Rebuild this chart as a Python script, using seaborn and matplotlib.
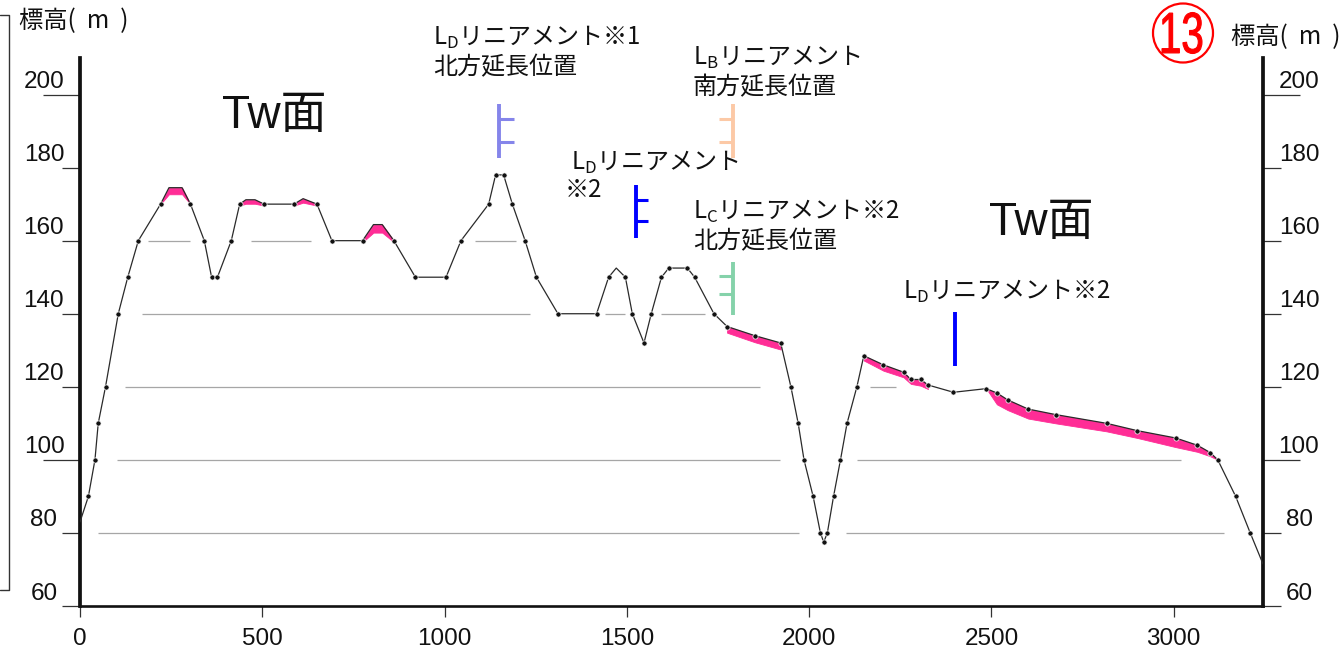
import numpy as np
import pandas as pd
import matplotlib
matplotlib.use("Agg")
import matplotlib.pyplot as plt
import seaborn as sns
from matplotlib import transforms
from matplotlib.patches import Ellipse, PathPatch
from matplotlib.textpath import TextPath
from matplotlib.font_manager import FontProperties
from matplotlib.lines import Line2D

# ---- terrain profile (distance m, elevation m) ----
distance = [0, 23, 41, 50, 70, 105, 131, 160, 221, 244, 280, 303, 341, 361, 377,
            415, 438, 455, 480, 505, 587, 612, 650, 691, 775, 805, 829, 861, 920,
            1004, 1045, 1121, 1140, 1162, 1186, 1221, 1252, 1311, 1417, 1450, 1471,
            1496, 1515, 1547, 1567, 1595, 1615, 1666, 1686, 1739, 1775, 1851, 1922,
            1950, 1970, 1986, 2011, 2031, 2040, 2050, 2067, 2086, 2104, 2131, 2150,
            2204, 2259, 2279, 2306, 2326, 2396, 2486, 2515, 2545, 2601, 2676, 2816,
            2900, 3005, 3065, 3100, 3121, 3170, 3210, 3245]
elevation = [83, 90, 100, 110, 120, 140, 150, 160, 170, 174.5, 174.5, 170, 160, 150, 150,
             160, 170, 171.2, 171.2, 170, 170, 171.5, 170, 160, 160, 164.4, 164.4, 160, 150,
             150, 160, 170, 178, 178, 170, 160, 150, 140, 140, 150, 152.5,
             150, 140, 132, 140, 150, 152.5, 152.5, 150, 140, 136.5, 134, 132,
             120, 110, 100, 90, 80, 77.5, 80, 90, 100, 110, 120, 128.5,
             126, 124, 122, 122, 120.5, 118.5, 119.5, 118.3, 116.4, 113.9, 112.4, 110,
             108, 106, 104, 102, 100, 90, 80, 71.5]
# 1 where a surveyed point (dot) is shown
surveyed = [0, 1, 1, 1, 1, 1, 1, 1, 1, 0, 0, 1, 1, 1, 1,
            1, 1, 0, 0, 1, 1, 0, 1, 1, 1, 0, 0, 1, 1,
            1, 1, 1, 1, 1, 1, 1, 1, 1, 1, 1, 0,
            1, 1, 1, 1, 1, 1, 1, 1, 1, 1, 1, 1,
            1, 1, 1, 1, 1, 1, 1, 1, 1, 1, 1, 1,
            1, 1, 1, 1, 1, 1, 1, 1, 1, 1, 1, 1,
            1, 1, 1, 1, 1, 1, 1, 0]

# ---- terrace deposits (pink) : distance, top, bottom ----
terr1_x = [221, 244, 280, 303]
terr1_top = [170, 174.5, 174.5, 170]
terr1_bot = [170, 172.7, 172.7, 170]
terr2_x = [438, 455, 480, 505]
terr2_top = [170, 171.2, 171.2, 170]
terr2_bot = [169.6, 170.1, 170.1, 169.6]
terr3_x = [587, 612, 650]
terr3_top = [170, 171.5, 170]
terr3_bot = [169.6, 170.4, 169.6]
terr4_x = [775, 805, 829, 861]
terr4_top = [160, 164.4, 164.4, 160]
terr4_bot = [159.6, 162.2, 162.2, 159.6]
terr5_x = [1775, 1851, 1922]
terr5_top = [136.5, 134, 132]
terr5_bot = [134.8, 132.2, 130.2]
terr6_x = [2150, 2204, 2259, 2279, 2306, 2326]
terr6_top = [128.5, 126, 124, 122, 122, 120.5]
terr6_bot = [127.2, 124.4, 122.6, 120.8, 120.3, 119.4]
terr7_x = [2486, 2515, 2545, 2601, 2676, 2816, 2900, 3005, 3065, 3100, 3121]
terr7_top = [119.5, 118.3, 116.4, 113.9, 112.4, 110, 108, 106, 104, 102, 100]
terr7_bot = [119.5, 115.2, 113.6, 111.3, 110.0, 107.8, 106.0, 103.5, 102.2, 101.0, 100]
terraces = [(terr1_x, terr1_top, terr1_bot), (terr2_x, terr2_top, terr2_bot),
            (terr3_x, terr3_top, terr3_bot), (terr4_x, terr4_top, terr4_bot),
            (terr5_x, terr5_top, terr5_bot), (terr6_x, terr6_top, terr6_bot),
            (terr7_x, terr7_top, terr7_bot)]

# ---- reference contour segments ----
contour_level = [160, 160, 160, 140, 140, 140, 120, 120, 100, 100, 80, 80]
contour_start = [186, 468, 1083, 169, 1440, 1593, 123, 2166, 101, 2132, 50, 2102]
contour_end = [301, 635, 1195, 1234, 1494, 1714, 1864, 2237, 1919, 3020, 1971, 3139]

# ---- lineament positions ----
lin_x = [1150, 1791, 1524, 1791, 2401]
lin_lo = [182.7, 182.7, 160.8, 139.7, 125.6]
lin_hi = [197.3, 197.3, 175.3, 154.2, 140.5]
lin_tick1 = [193.2, 193.2, 171.0, 150.4, None]
lin_tick2 = [187.1, 187.1, 165.5, 145.5, None]
lin_tick_len = [40, -38, 33, -38, 0]
lin_color = ["#8585ea", "#fcc9a6", "#0000ff", "#85d2aa", "#0000ff"]

y_major = [100, 200]
y_minor = [60, 80, 120, 140, 160, 180]
x_ticks = [0, 500, 1000, 1500, 2000, 2500, 3000]

sns.set_style("white")
plt.rcParams["font.family"] = ["Liberation Sans", "Noto Sans CJK JP", "DejaVu Sans"]
plt.rcParams["text.color"] = "#111111"
JP = ["Noto Sans CJK JP", "DejaVu Sans"]

W, H, DPI = 1344, 655, 100
fig = plt.figure(figsize=(W / DPI, H / DPI), dpi=DPI)
ax = fig.add_axes([80 / W, 49 / H, 1183 / W, 548 / H])


def fx(px):
    return px / W


def fy(py):
    return 1 - py / H


# contour reference lines
ax.hlines(contour_level, contour_start, contour_end, color="#a6a6a6", lw=0.9, zorder=1)

# terraces
for tx, ttop, tbot in terraces:
    ax.fill_between(tx, tbot, ttop, color="#ff2d96", lw=0.6, edgecolor="#ff2d96", zorder=2)

# profile line and surveyed points
prof = pd.DataFrame({"distance": distance, "elevation": elevation, "surveyed": surveyed})
sns.lineplot(data=prof, x="distance", y="elevation", sort=False, estimator=None,
             color="#2a2a2a", lw=0.9, ax=ax, zorder=3)
pts = prof[prof["surveyed"] == 1]
sns.scatterplot(data=pts, x="distance", y="elevation", s=14, color="#111111",
                edgecolor="white", linewidth=0.5, ax=ax, zorder=4)

# lineament markers
for x, lo, hi, t1, t2, tl, c in zip(lin_x, lin_lo, lin_hi, lin_tick1, lin_tick2,
                                     lin_tick_len, lin_color):
    ax.vlines(x, lo, hi, color=c, lw=2.8, zorder=5)
    for t in (t1, t2):
        if t is not None:
            ax.hlines(t, x, x + tl, color=c, lw=2.2, zorder=5)

ax.set_xlim(0, 3245)
ax.set_ylim(60, 210)
ax.set_xlabel("")
ax.set_ylabel("")

# axes frame
ax.spines["top"].set_visible(False)
for s in ("left", "right"):
    ax.spines[s].set_linewidth(2.7)
    ax.spines[s].set_color("#111111")
ax.spines["bottom"].set_linewidth(1.9)
ax.spines["bottom"].set_color("#111111")

ax.set_xticks(x_ticks)
ax.set_xticklabels([str(v) for v in x_ticks])
ax.set_yticks(y_major)
ax.set_yticklabels([str(v) for v in y_major])
ax.set_yticks(y_minor, minor=True)
ax.set_yticklabels([str(v) for v in y_minor], minor=True)

ax.tick_params(axis="x", which="major", bottom=True, direction="out", length=8,
               width=0.9, color="#333333", pad=8, labelsize=17.5, labelcolor="#111111")
ax.tick_params(axis="y", which="major", left=True, right=True, labelleft=True,
               labelright=True, direction="out", length=26.6, width=0.9,
               color="#333333", pad=-0.7, labelsize=17.5, labelcolor="#111111")
ax.tick_params(axis="y", which="minor", left=True, right=True, labelleft=True,
               labelright=True, direction="out", length=13, width=0.9,
               color="#333333", pad=13, labelsize=17.5, labelcolor="#111111")

# y labels sit above their tick marks, centred
up = transforms.ScaledTranslation(0, 15 / DPI, fig.dpi_scale_trans)
for tk in ax.yaxis.get_major_ticks() + ax.yaxis.get_minor_ticks():
    for lab in (tk.label1, tk.label2):
        lab.set_transform(lab.get_transform() + up)
        lab.set_horizontalalignment("center")

# axis titles
fig.text(fx(19), fy(21), "標高(  m  )", family=JP, fontsize=17.5, ha="left", va="center")
fig.text(fx(1231), fy(37), "標高(  m  )", family=JP, fontsize=17.5, ha="left", va="center")

# surface names
fig.text(fx(274), fy(116), "Tw面", fontsize=33, ha="center", va="center")
fig.text(fx(1041), fy(223), "Tw面", fontsize=33, ha="center", va="center")

# lineament labels
fig.text(fx(433), fy(52), "$\\mathregular{L_{D}}$リニアメント※1\n北方延長位置",
         family=JP, fontsize=17.3, ha="left", va="center", linespacing=1.15)
fig.text(fx(693), fy(72), "$\\mathregular{L_{B}}$リニアメント\n南方延長位置",
         family=JP, fontsize=17.3, ha="left", va="center", linespacing=1.15)
fig.text(fx(571), fy(162), "$\\mathregular{L_{D}}$リニアメント",
         family=JP, fontsize=17.3, ha="left", va="center")
fig.text(fx(565), fy(190), "※2", family=JP, fontsize=17.3, ha="left", va="center")
fig.text(fx(693), fy(226), "$\\mathregular{L_{C}}$リニアメント※2\n北方延長位置",
         family=JP, fontsize=17.3, ha="left", va="center", linespacing=1.15)
fig.text(fx(903), fy(291), "$\\mathregular{L_{D}}$リニアメント※2",
         family=JP, fontsize=17.3, ha="left", va="center")

# section number in a red circle
fig.add_artist(Ellipse((1183 / DPI, (H - 33) / DPI), 0.60, 0.59,
                       transform=fig.dpi_scale_trans, fill=False, ec="#ff0000", lw=1.6))
tp = TextPath((0, 0), "13", size=1, prop=FontProperties(family="Liberation Sans"))
bb = tp.get_extents()
num_tr = (transforms.Affine2D()
          .translate(-(bb.x0 + bb.width / 2), -(bb.y0 + bb.height / 2))
          .scale(0.40 / bb.width, 0.41 / bb.height)
          .translate(1182 / DPI, (H - 33) / DPI) + fig.dpi_scale_trans)
fig.add_artist(PathPatch(tp, transform=num_tr, fc="#ff0000", ec="#ff0000", lw=0.8))

# edge of the neighbouring section frame
fig.add_artist(Line2D([0, 9 / DPI, 9 / DPI, 0],
                      [(H - 15) / DPI, (H - 15) / DPI, (H - 590) / DPI, (H - 590) / DPI],
                      transform=fig.dpi_scale_trans, color="#333333", lw=1.0))

fig.savefig("out.png", dpi=DPI)
